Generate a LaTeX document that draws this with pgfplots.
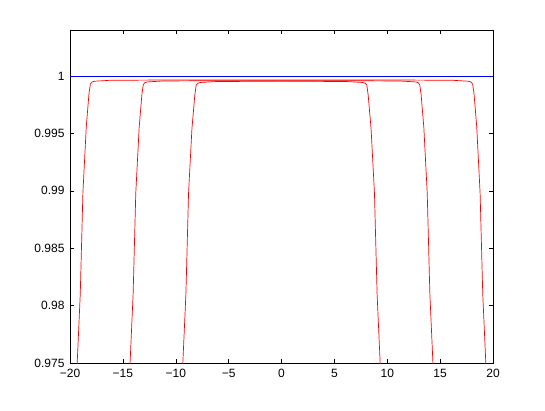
\documentclass[border=0pt]{standalone}
\usepackage{pgfplots}
\pgfplotsset{compat=1.18}
\usepackage{fontspec}
\setmainfont{Liberation Sans}
\begin{document}
\begin{tikzpicture}
\begin{axis}[
  scale only axis, width=423pt, height=333pt,
  xmin=-20, xmax=20, ymin=0.975, ymax=1.004,
  xtick={-20,-15,-10,-5,0,5,10,15,20},
  xticklabels={−20,−15,−10,−5,0,5,10,15,20},
  ytick={0.975,0.98,0.985,0.99,0.995,1},
  yticklabels={0.975,0.98,0.985,0.99,0.995,1},
  tick align=inside, tick pos=both,
  major tick length=4pt,
  axis line style={black, line width=0.5pt},
  tick style={black, line width=0.5pt},
  ticklabel style={font=\fontsize{12}{14}\selectfont},
  xticklabel style={yshift=-3pt},
  yticklabel style={xshift=-2pt},
  /pgf/number format/assume math mode=true,
  clip=true,
]
\addplot[blue, line width=0.6pt] coordinates {(-20,1) (20,1)};
% outer curve
\addplot[red, line width=0.7pt] coordinates {
(-19.60,0.9700) (-19.32,0.9750) (-19.03,0.9810) (-18.78,0.9898) (-18.46,0.9956) (-18.20,0.9985) (-18.07,0.9993) (-17.90,0.99948) (-17.67,0.99954) (-16.20,0.99962) (-12,0.99964) (0,0.99965)
(12,0.99964) (16.20,0.99962) (17.67,0.99954) (17.90,0.99948) (18.07,0.9993) (18.20,0.9985) (18.46,0.9956) (18.78,0.9898) (19.03,0.9810) (19.32,0.9750) (19.60,0.9700)};
% middle curve
\addplot[red, line width=0.7pt] coordinates {
(-14.60,0.9700) (-14.32,0.9750) (-14.03,0.9810) (-13.78,0.9898) (-13.46,0.9955) (-13.20,0.9984) (-13.07,0.99925) (-12.90,0.99942) (-12.67,0.99948) (-11.20,0.99956) (-7,0.99958) (0,0.99959)
(7,0.99958) (11.20,0.99956) (12.67,0.99948) (12.90,0.99942) (13.07,0.99925) (13.20,0.9984) (13.46,0.9955) (13.78,0.9898) (14.03,0.9810) (14.32,0.9750) (14.60,0.9700)};
% inner curve
\addplot[red, line width=0.7pt] coordinates {
(-9.60,0.9700) (-9.33,0.9750) (-9.04,0.9810) (-8.79,0.9898) (-8.47,0.9954) (-8.20,0.9983) (-8.07,0.9992) (-7.90,0.99937) (-7.67,0.99943) (-6.20,0.99951) (-3,0.99953) (0,0.99954)
(3,0.99953) (6.20,0.99951) (7.67,0.99943) (7.90,0.99937) (8.07,0.9992) (8.20,0.9983) (8.47,0.9954) (8.79,0.9898) (9.04,0.9810) (9.33,0.9750) (9.60,0.9700)};
\end{axis}
\path ([shift={(-70pt,-47pt)}]current axis.south west) rectangle ([shift={(52pt,30pt)}]current axis.north east);
\end{tikzpicture}
\end{document}
